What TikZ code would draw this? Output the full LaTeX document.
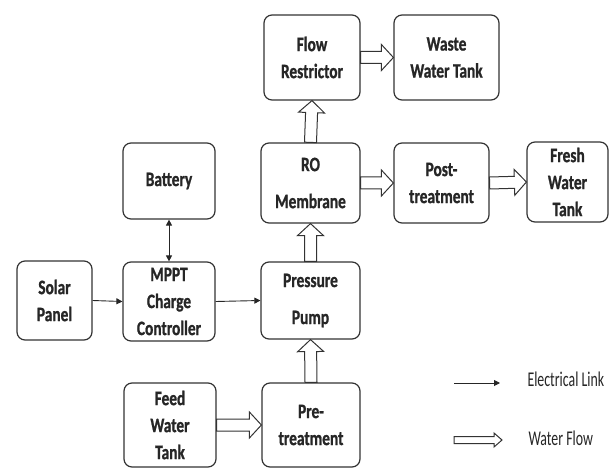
\documentclass[tikz,border=0pt]{standalone}
\usepackage{fontspec}
\setmainfont{Carlito}[FakeStretch=0.75, BoldFeatures={FakeBold=1}]
\newfontfamily\legendfont{Carlito}[FakeStretch=0.66]
\usetikzlibrary{calc,arrows.meta}

\tikzset{
  block/.style={draw=black!80, line width=1.2pt, rounded corners=8pt, align=center,
    inner sep=0pt, text=black!85, font=\bfseries\fontsize{20.5}{27}\selectfont},
  elec/.style={draw=black!85, line width=0.9pt, -{Triangle[length=6pt,width=6pt]}},
  flow/.style args={#1/#2/#3}{draw=black!80, line width=1pt, to path={
    ($(\tikztostart)!#1!90:(\tikztotarget)$)
    -- ($(\tikztotarget)!#3!(\tikztostart)!#1!90:(\tikztotarget)$)
    -- ($(\tikztotarget)!#3!(\tikztostart)!#2!90:(\tikztotarget)$)
    -- (\tikztotarget)
    -- ($(\tikztotarget)!#3!(\tikztostart)!#2!-90:(\tikztotarget)$)
    -- ($(\tikztotarget)!#3!(\tikztostart)!#1!-90:(\tikztotarget)$)
    -- ($(\tikztostart)!#1!-90:(\tikztotarget)$) -- cycle}},
  legendtext/.style={anchor=west, text=black!85, font=\legendfont\fontsize{21}{25}\selectfont}
}

\begin{document}
\begin{tikzpicture}[x=1pt, y=1pt]
\useasboundingbox (0,0) rectangle (615,469);

\node [block, minimum width=96, minimum height=85] (flow) at (312, 411.5) {Flow\\Restrictor};
\node [block, minimum width=105, minimum height=85] (waste) at (446.5, 411.5) {Waste\\Water Tank};
\node [block, minimum width=99, minimum height=80] (ro) at (310.5, 286) {RO\\[10pt]Membrane};
\node [block, minimum width=95, minimum height=80] (post) at (441.5, 286) {Post-\\treatment};
\node [block, minimum width=81, minimum height=80] (fresh) at (567.5, 287) {Fresh\\Water\\Tank};
\node [block, minimum width=92, minimum height=76] (battery) at (169, 288) {Battery};
\node [block, minimum width=92, minimum height=79] (mppt) at (169, 167.5) {MPPT\\Charge\\Controller};
\node [block, minimum width=75, minimum height=79] (solar) at (54.5, 168.5) {Solar\\Panel};
\node [block, minimum width=99, minimum height=77] (pump) at (310.5, 168.5) {Pressure\\[10pt]Pump};
\node [block, minimum width=92, minimum height=84] (feed) at (170, 44) {Feed\\Water\\Tank};
\node [block, minimum width=98, minimum height=84] (pre) at (311, 44) {Pre-\\treatment};

% electrical links
\draw [elec] (solar.east) -- (mppt.west);
\draw [elec] (mppt.east) -- (pump.west);
\draw [elec, {Triangle[length=6pt,width=6pt]}-{Triangle[length=6pt,width=6pt]}] (battery.south) -- (mppt.north);

% water flow
\draw [flow=6pt/13pt/12pt] (feed.east) to (pre.west);
\draw [flow=6pt/13pt/12pt] (pre.north) to (pump.south);
\draw [flow=6pt/13pt/12pt] (pump.north) to (ro.south);
\draw [flow=6pt/13pt/12pt] (ro.north) to (flow.south);
\draw [flow=6pt/13pt/12pt] (flow.east) to (waste.west);
\draw [flow=6pt/13pt/12pt] (ro.east) to (post.west);
\draw [flow=6pt/13pt/12pt] (post.east) to (fresh.west);

% legend
\coordinate (elecA) at (454, 86);
\coordinate (elecB) at (500, 86);
\coordinate (waterA) at (454, 29);
\coordinate (waterB) at (502, 29);
\draw [elec] (elecA) -- (elecB);
\draw [flow=3.5pt/7pt/8pt] (waterA) to (waterB);
\node [legendtext] (eleclabel) at (524, 90) {Electrical Link};
\node [legendtext] (waterlabel) at (525, 31) {Water Flow};

\end{tikzpicture}
\end{document}
